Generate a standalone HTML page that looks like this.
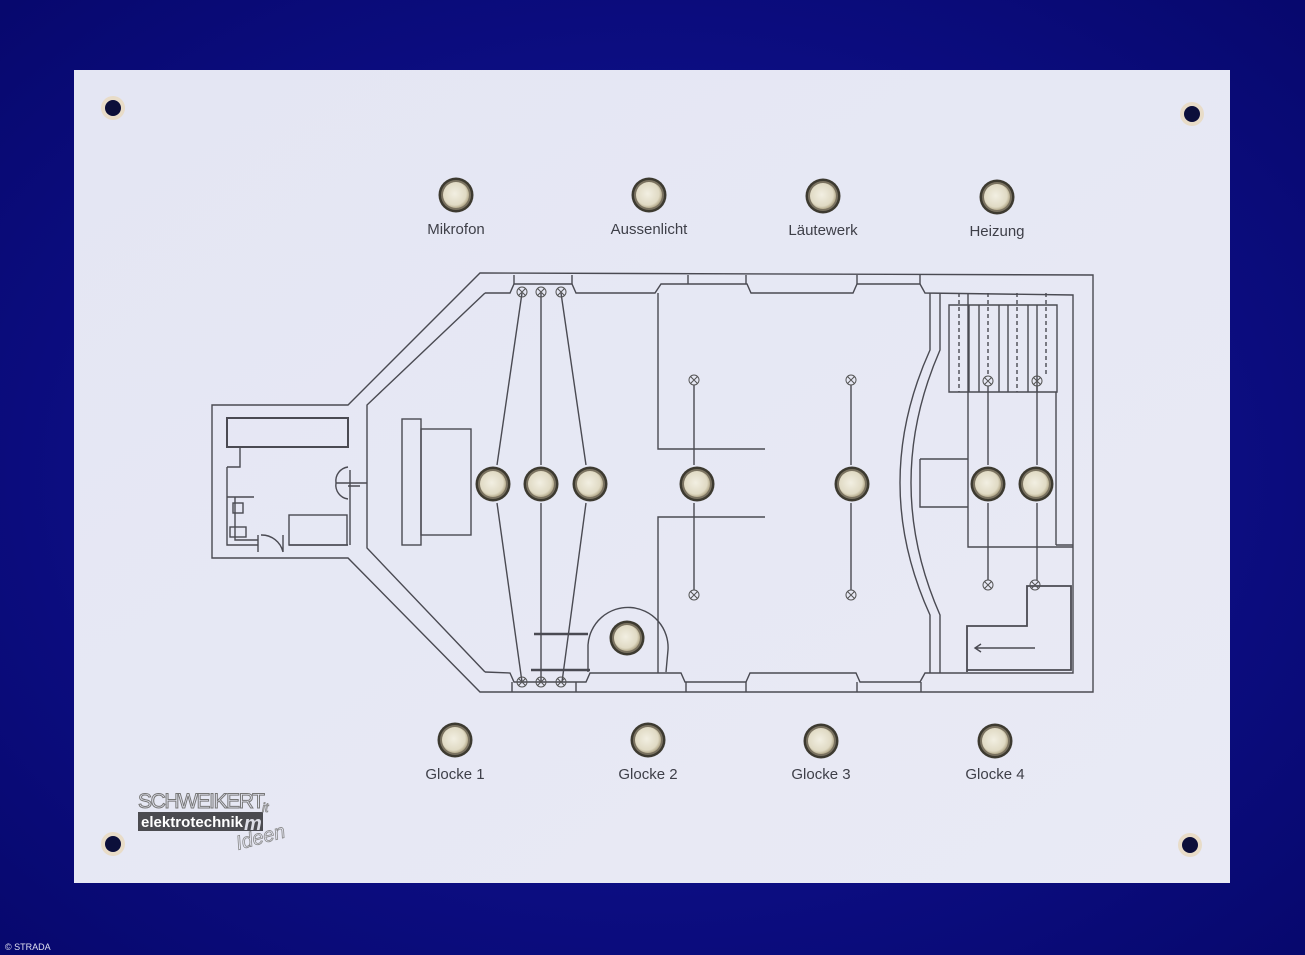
<!DOCTYPE html>
<html><head><meta charset="utf-8"><style>
html,body{margin:0;padding:0;width:1305px;height:955px;overflow:hidden;background:#0b0c86;}
svg{display:block}
text{font-family:"Liberation Sans",sans-serif}
</style></head><body>
<svg width="1305" height="955" viewBox="0 0 1305 955" xmlns="http://www.w3.org/2000/svg">
<defs>
<radialGradient id="bg" cx="50%" cy="50%" r="70%"><stop offset="0" stop-color="#1416a0"/><stop offset="1" stop-color="#07086e"/></radialGradient>
<linearGradient id="pn" x1="0" y1="0" x2="1" y2="1"><stop offset="0" stop-color="#e4e6f3"/><stop offset="1" stop-color="#e9eaf5"/></linearGradient>
<radialGradient id="btn" cx="45%" cy="45%" r="55%"><stop offset="0" stop-color="#f2efe2"/><stop offset="0.8" stop-color="#e0dac4"/><stop offset="1" stop-color="#b8ae90"/></radialGradient>
<g id="b"><circle r="17.5" fill="#3d3a30"/><circle r="15" fill="#7a7260"/><circle r="13" fill="url(#btn)"/></g>
<g id="l"><circle r="5" fill="none" stroke="#555" stroke-width="1"/><path d="M-3.5,-3.5L3.5,3.5M3.5,-3.5L-3.5,3.5" stroke="#555" stroke-width="1"/></g>
<g id="h"><circle r="12" fill="#e8dcc8"/><circle r="8" fill="#0c0f3a"/></g>
</defs>
<rect width="1305" height="955" fill="url(#bg)"/>
<rect x="74" y="70" width="1156" height="813" fill="url(#pn)"/>
<use href="#h" x="113" y="108"/><use href="#h" x="1192" y="114"/><use href="#h" x="113" y="844"/><use href="#h" x="1190" y="845"/>

<g fill="none" stroke="#4a4a52" stroke-width="1.4">
<!-- outer wall -->
<path d="M480,273 L1093,275 L1093,692 L480,692 L348,558 L212,558 L212,405 L348,405 Z"/>
<!-- inner wall -->
<path d="M485,293 L367,405 L367,548 L485,672"/>
<path d="M485,293 L510,293 L514,284 L572,284 L576,293 L655,293 L661,284 L747,284 L751,293 L853,293 L857,284 L920,284 L925,293 L1073,295 L1073,673 L925,673 L920,682 L860,682 L856,673 L750,673 L746,682 L685,682 L681,673 L590,673 L586,682 L514,682 L510,673 L485,672"/>
<path d="M514,275 L514,284 M572,275 L572,284 M512,692 L512,682 M576,692 L576,682 M686,692 L686,682 M746,692 L746,682 M857,692 L857,682 M921,692 L921,682 M688,275 L688,284 M746,275 L746,284 M857,275 L857,284 M920,275 L920,284"/>
<!-- small room -->
<rect x="227" y="418" width="121" height="29" stroke-width="2"/>
<path d="M227,467 L227,545 L258,545 M240,447 L240,467 L227,467 M289,545 L348,545 M350,470 L350,545 M348,486 L360,486"/>
<path d="M227,497 L254,497 M235,497 L235,540 L258,540"/>
<rect x="233" y="503" width="10" height="10"/><rect x="230" y="527" width="16" height="10"/>
<path d="M261,535 A22,22 0 0,1 283,552 M258,535 L258,552 M283,535 L283,552"/>
<path d="M348,467 A14,14 0 0,0 336,483 L367,483 M348,499 A14,14 0 0,1 336,483"/>
<rect x="289" y="515" width="58" height="30"/>
<!-- altar -->
<rect x="402" y="419" width="19" height="126"/><rect x="421" y="429" width="50" height="106"/>
<!-- wires -->
<path d="M522,293 L497,465 M541,293 L541,465 M561,293 L586,465 M497,503 L522,682 M541,503 L541,682 M586,503 L562,682"/>
<path d="M658,293 L658,449 L765,449 M658,673 L658,517 L765,517"/>
<path d="M694,385 L694,465 M694,503 L694,590 M851,385 L851,465 M851,503 L851,590"/>
<path d="M588,672 L588,645 A40,40 0 0,1 668,650 L666,672"/>
<path d="M534,634 L588,634 M531,670 L590,670" stroke-width="2.5"/>
<!-- right arch wall -->
<path d="M930,293 L930,350 Q870,483 930,615 L930,673 M940,293 L940,350 Q882,483 940,615 L940,673"/>
<path d="M949,305 L949,392 L1057,392 L1057,305 Z M969,305 L969,392 M979,305 L979,392 M999,305 L999,392 M1008,305 L1008,392 M1028,305 L1028,392 M1037,305 L1037,392"/>
<path d="M959,293 L959,392 M988,293 L988,376 M1017,293 L1017,392 M1046,293 L1046,376" stroke-dasharray="4,3"/>
<path d="M968,293 L968,547 L1073,547 M1056,392 L1056,545 M1056,545 L1073,545"/>
<path d="M920,459 L968,459 M920,459 L920,507 L968,507"/>
<path d="M988,386 L988,465 M988,503 L988,580 M1037,386 L1037,465 M1037,503 L1037,580"/>
<path d="M967,672 L967,626 L1027,626 L1027,586 L1071,586 L1071,670 L967,670" stroke-width="1.8"/>
<path d="M1035,648 L975,648 M981,644 L975,648 L981,652"/>
</g>
<g>
<use href="#l" x="522" y="292"/><use href="#l" x="541" y="292"/><use href="#l" x="561" y="292"/>
<use href="#l" x="522" y="682"/><use href="#l" x="541" y="682"/><use href="#l" x="561" y="682"/>
<use href="#l" x="694" y="380"/><use href="#l" x="851" y="380"/><use href="#l" x="694" y="595"/><use href="#l" x="851" y="595"/>
<use href="#l" x="988" y="381"/><use href="#l" x="1037" y="381"/><use href="#l" x="988" y="585"/><use href="#l" x="1035" y="585"/>
</g>
<g>
<use href="#b" x="456" y="195"/><use href="#b" x="649" y="195"/><use href="#b" x="823" y="196"/><use href="#b" x="997" y="197"/>
<use href="#b" x="493" y="484"/><use href="#b" x="541" y="484"/><use href="#b" x="590" y="484"/><use href="#b" x="697" y="484"/><use href="#b" x="852" y="484"/><use href="#b" x="988" y="484"/><use href="#b" x="1036" y="484"/><use href="#b" x="627" y="638"/>
<use href="#b" x="455" y="740"/><use href="#b" x="648" y="740"/><use href="#b" x="821" y="741"/><use href="#b" x="995" y="741"/>
</g>
<g font-size="15" fill="#3e3f48" text-anchor="middle">
<text x="456" y="234">Mikrofon</text><text x="649" y="234">Aussenlicht</text><text x="823" y="235">Läutewerk</text><text x="997" y="236">Heizung</text>
<text x="455" y="779">Glocke 1</text><text x="648" y="779">Glocke 2</text><text x="821" y="779">Glocke 3</text><text x="995" y="779">Glocke 4</text>
</g>
<text x="138" y="808" font-size="21" fill="none" stroke="#777" stroke-width="1" textLength="127">SCHWEIKERT</text>
<rect x="138" y="812" width="125" height="19" fill="#4b4b50"/>
<text x="141" y="827" font-size="15" font-weight="bold" fill="#fff" textLength="102">elektrotechnik</text>
<text x="244" y="830" font-size="20" font-weight="bold" fill="#dcdde6" font-style="italic">m</text>
<text x="238" y="850" font-size="20" fill="none" stroke="#888" stroke-width="0.8" font-style="italic" transform="rotate(-15 238 850)">Ideen</text>
<text x="262" y="812" font-size="13" fill="none" stroke="#888" stroke-width="0.8" font-style="italic">it</text>
<text x="5" y="950" font-size="9" fill="#e0e0f0">© STRADA</text>
</svg>
</body></html>
